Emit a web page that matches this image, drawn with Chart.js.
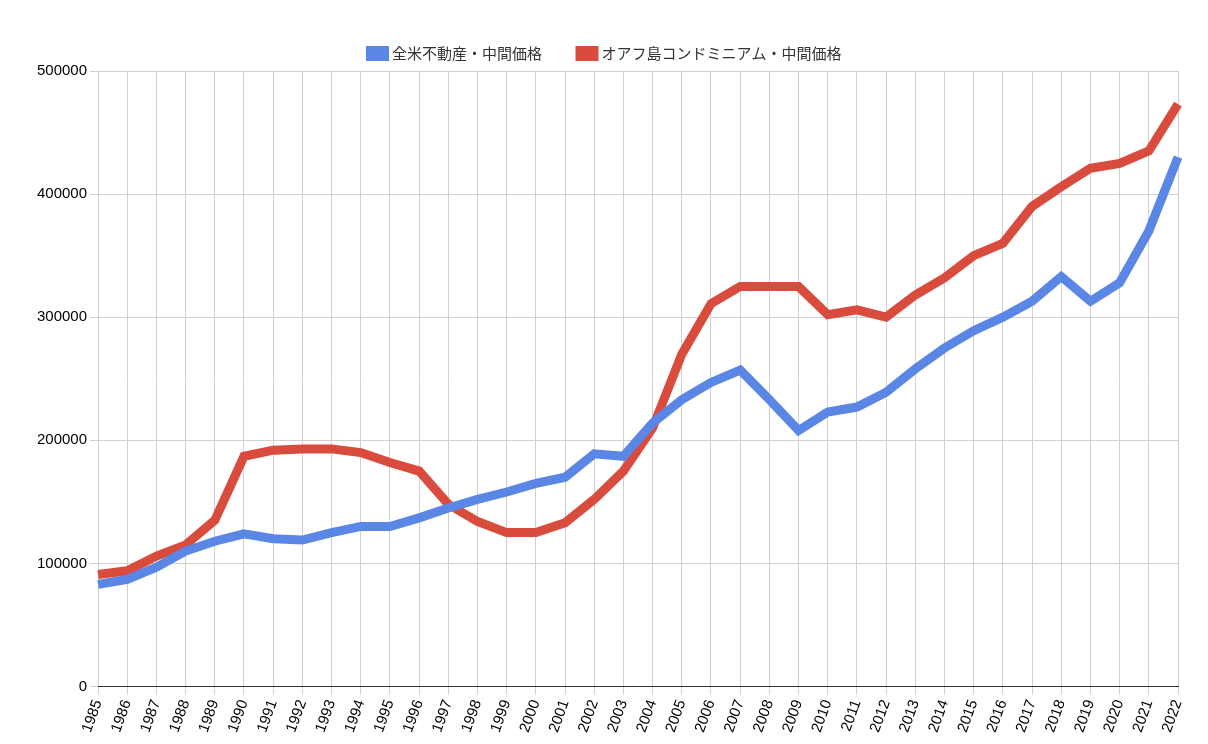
<!DOCTYPE html><html><head><meta charset="utf-8">
<script src="https://cdn.jsdelivr.net/npm/chart.js@4"></script>
<style>body{margin:0;background:#fff}#w{width:1208px;height:744px}</style></head><body><div id="w"><canvas id="c"></canvas></div>
<script>
const years=[];for(let y=1985;y<=2022;y++)years.push(String(y));
const usMedian=[83000,87000,97000,110000,118000,124000,120000,119000,125000,130000,130000,137000,145000,152000,158000,165000,170000,189000,187000,214000,233000,247000,257000,233000,208000,223000,227000,239000,258000,275000,289000,300000,313000,333000,313000,328000,370000,430000];
const oahuCondo=[91000,94000,106000,115000,135000,187000,192000,193000,193000,190000,182000,175000,148000,134000,125000,125000,133000,152000,175000,210000,270000,311000,325000,325000,325000,302000,306000,300000,318000,332000,350000,360000,390000,406000,421000,425000,435000,473000];
const yTicks=[0,100000,200000,300000,400000,500000];
new Chart(document.getElementById('c'),{type:'line',data:{labels:years,datasets:[
{label:'全米不動産・中間価格',data:usMedian,borderColor:'#5a86e6',backgroundColor:'#5a86e6',borderWidth:9,pointRadius:0,tension:0},
{label:'オアフ島コンドミニアム・中間価格',data:oahuCondo,borderColor:'#d84b3d',backgroundColor:'#d84b3d',borderWidth:9,pointRadius:0,tension:0}]},
options:{responsive:true,maintainAspectRatio:false,animation:false,
layout:{padding:{left:34,right:30,top:8,bottom:6}},
plugins:{legend:{labels:{font:{family:'Noto Sans CJK JP',size:15},color:'#333',boxWidth:14,boxHeight:6,padding:38}},tooltip:{enabled:false}},
scales:{x:{offset:false,grid:{color:'#d0d0d0'},border:{color:'#333'},ticks:{font:{family:'Liberation Sans',size:15},color:'#000',maxRotation:70,minRotation:70,autoSkip:false}},
y:{min:0,max:500000,afterBuildTicks:a=>{a.ticks=yTicks.map(v=>({value:v}))},grid:{color:'#d0d0d0'},border:{display:false},ticks:{font:{family:'Liberation Sans',size:15},color:'#000',callback:v=>String(v)}}}}});
</script></body></html>
